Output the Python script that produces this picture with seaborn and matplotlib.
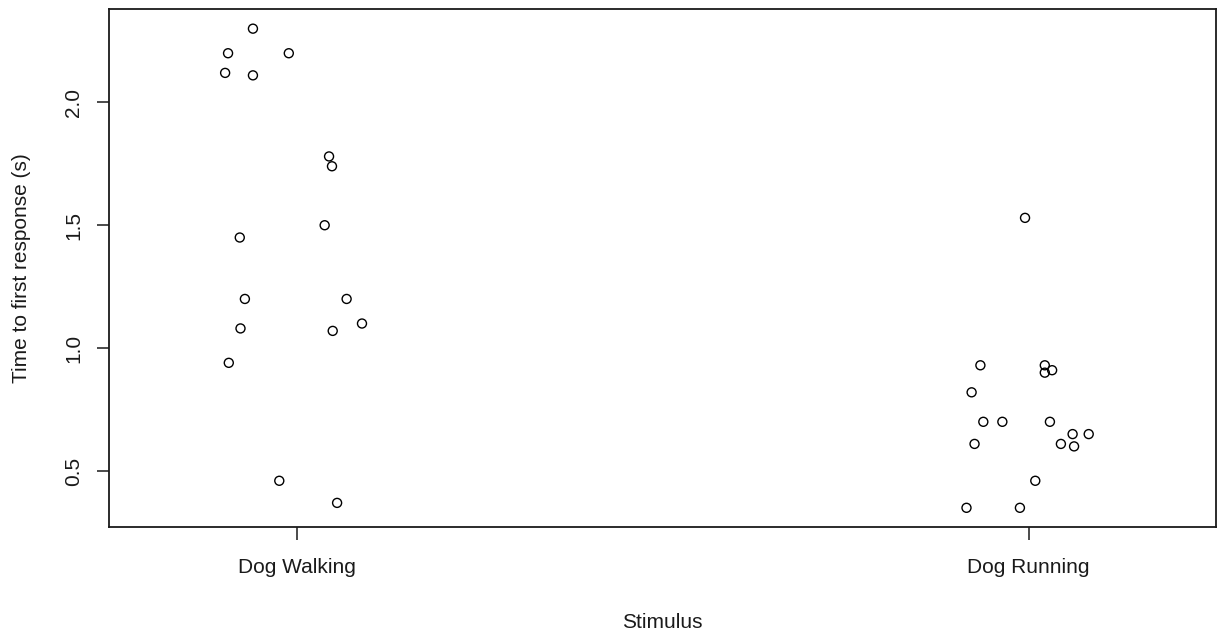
import numpy as np
import pandas as pd
import seaborn as sns
import matplotlib.pyplot as plt

# Response latencies (s) per stimulus, with the horizontal jitter of each point
stimuli = ["Dog Walking", "Dog Running"]

walking_times = [2.30, 2.20, 2.20, 2.12, 2.11, 1.78, 1.74, 1.50, 1.45,
                 1.20, 1.20, 1.08, 1.07, 1.10, 0.94, 0.46, 0.37]
walking_jitter = [-0.060, -0.094, -0.011, -0.098, -0.060, 0.044, 0.048, 0.038, -0.078,
                  -0.071, 0.068, -0.077, 0.049, 0.089, -0.093, -0.024, 0.055]

running_times = [1.53, 0.93, 0.93, 0.90, 0.91, 0.82, 0.70, 0.70, 0.70,
                 0.65, 0.65, 0.61, 0.61, 0.60, 0.46, 0.35, 0.35]
running_jitter = [-0.005, -0.066, 0.022, 0.022, 0.032, -0.078, -0.062, -0.036, 0.029,
                  0.060, 0.082, -0.074, 0.044, 0.062, 0.009, -0.085, -0.012]

y_ticks = [0.5, 1.0, 1.5, 2.0]
y_tick_labels = ["0.5", "1.0", "1.5", "2.0"]

df = pd.DataFrame({
    "stimulus": [stimuli[0]] * len(walking_times) + [stimuli[1]] * len(running_times),
    "time": walking_times + running_times,
    "jitter": walking_jitter + running_jitter,
})
df["stimulus"] = pd.Categorical(df["stimulus"], categories=stimuli)
df["pos"] = df["stimulus"].cat.codes + 1 + df["jitter"]

sns.set_style("white")
plt.rcParams["font.family"] = ["Liberation Sans", "DejaVu Sans"]
ink = "#1a1a1a"
fs = 15

fig = plt.figure(figsize=(12.18, 6.33), dpi=100)
ax = fig.add_axes([0.0899, 0.1675, 0.9085, 0.8175])

sns.scatterplot(data=df, x="pos", y="time", ax=ax, marker="o", s=42,
                color="black", edgecolor="black", linewidth=1.0, legend=False)
pts = ax.collections[-1]
pts.set_facecolor("none")
pts.set_edgecolor("black")

# R-style 4% padding around the data range
x_lo, x_hi = 0.8, 2.2
y_lo, y_hi = min(df["time"]), max(df["time"])
xp = 0.04 * (x_hi - x_lo)
yp = 0.04 * (y_hi - y_lo)
ax.set_xlim(x_lo - xp, x_hi + xp)
ax.set_ylim(y_lo - yp, y_hi + yp)

ax.set_xticks([1, 2])
ax.set_xticklabels(stimuli)
ax.set_yticks(y_ticks)
ax.set_yticklabels(y_tick_labels, rotation=90, va="center")

for sp in ax.spines.values():
    sp.set_visible(True)
    sp.set_color(ink)
    sp.set_linewidth(1.3)

ax.tick_params(axis="both", direction="out", length=9, width=1.1, color=ink,
               labelsize=fs, labelcolor=ink, bottom=True, left=True)
ax.tick_params(axis="x", pad=13)
ax.tick_params(axis="y", pad=10)

ax.set_xlabel("Stimulus", fontsize=fs, color=ink, labelpad=26)
ax.set_ylabel("Time to first response (s)", fontsize=fs, color=ink, labelpad=24)

fig.savefig("out.png", dpi=100, facecolor="white")
